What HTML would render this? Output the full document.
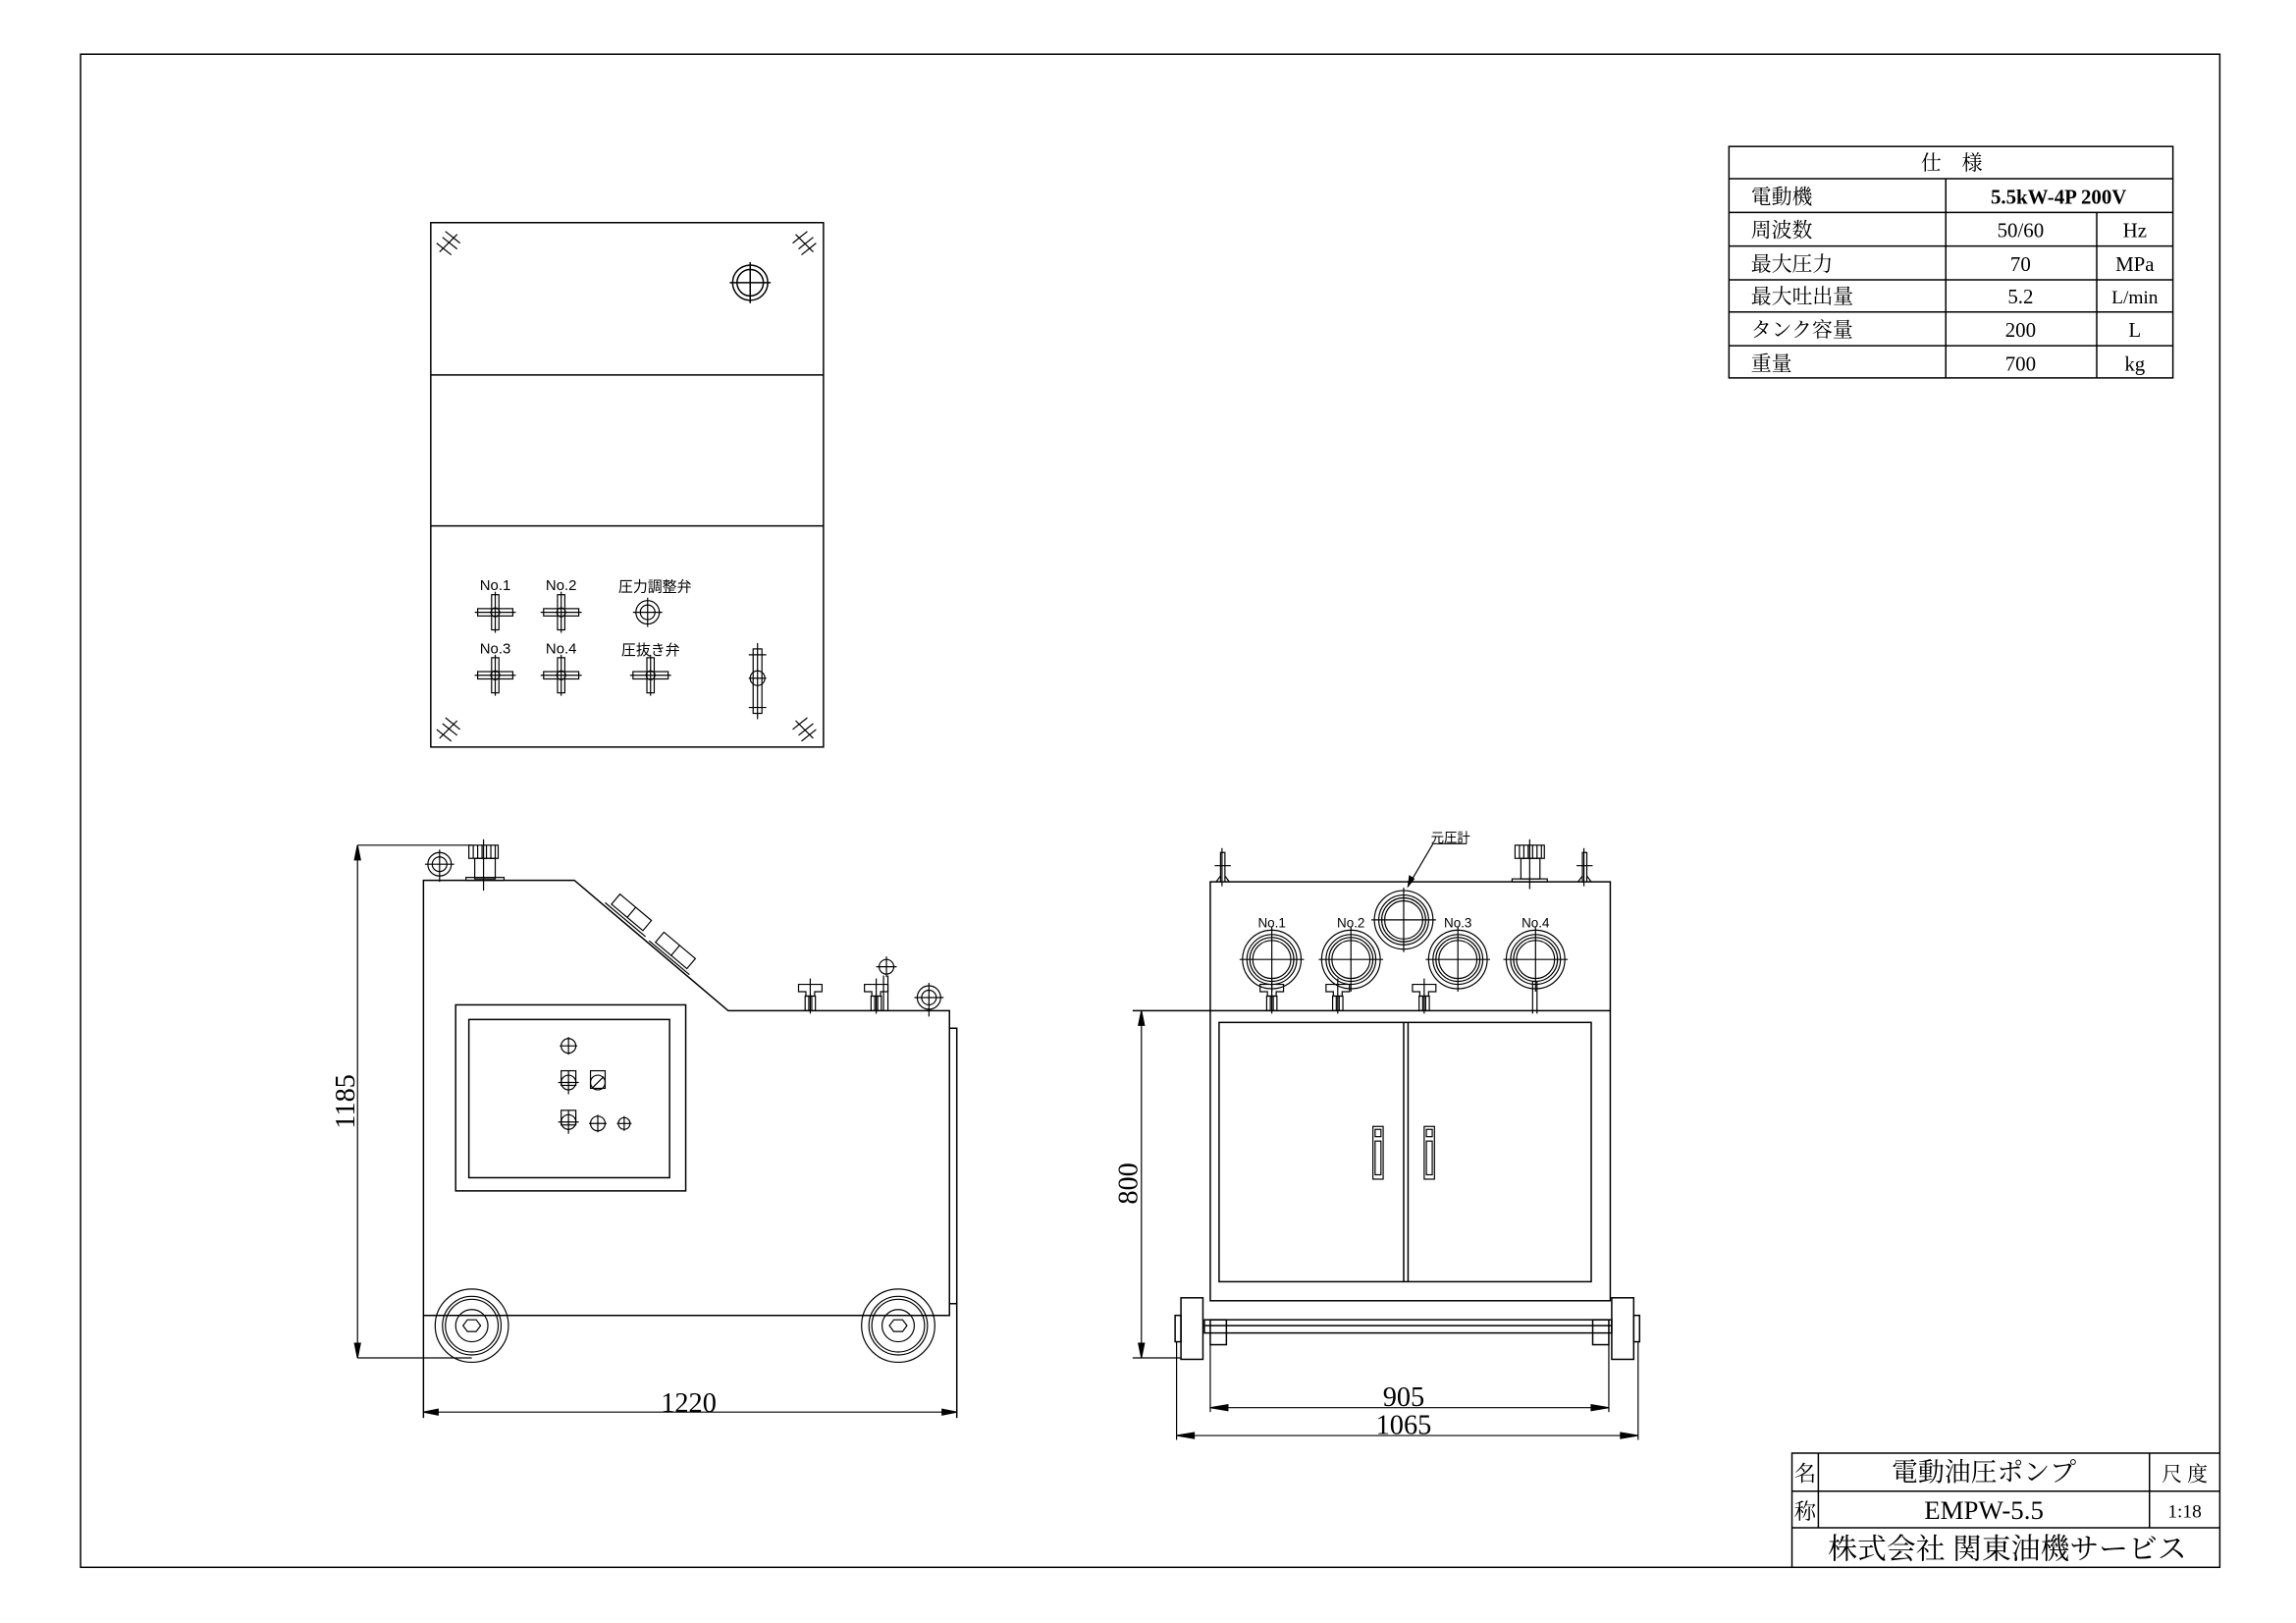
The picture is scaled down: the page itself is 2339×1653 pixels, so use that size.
<!DOCTYPE html>
<html><head><meta charset="utf-8"><style>
html,body{margin:0;padding:0;background:#fff;}
svg{display:block;}
text{font-family:"Liberation Sans","Noto Sans CJK JP",sans-serif;fill:#000;}
.s{font-family:"Liberation Serif","Noto Serif CJK SC","Noto Sans CJK JP",serif;}
</style></head><body>
<svg width="2339" height="1653" viewBox="0 0 1567 1108" preserveAspectRatio="none" xmlns="http://www.w3.org/2000/svg">
<defs>
<g id="vx" fill="none" stroke="#000" stroke-width="0.8">
<rect x="-2.5" y="-12" width="5" height="24"/><rect x="-12" y="-2.5" width="24" height="5"/>
<circle cx="0" cy="0" r="3"/><line x1="-14" y1="0" x2="14" y2="0"/><line x1="0" y1="-14" x2="0" y2="14"/>
</g>
<g id="wing" fill="none" stroke="#000" stroke-width="0.8">
<path d="M-8,-6 L8,-6 L8,-1 L3,-1 L3,2 L-3,2 L-3,-1 L-8,-1 Z"/>
<rect x="-3.5" y="2" width="7" height="10"/><line x1="0" y1="-10" x2="0" y2="14"/><line x1="-1" y1="2" x2="-1" y2="12"/><line x1="1" y1="2" x2="1" y2="12"/>
</g>
<g id="gg" fill="none" stroke="#000" stroke-width="0.8">
<circle cx="0" cy="0" r="20"/><circle cx="0" cy="0" r="17"/><circle cx="0" cy="0" r="15"/><circle cx="0" cy="0" r="13"/>
<line x1="-22" y1="0" x2="22" y2="0"/><line x1="0" y1="-22" x2="0" y2="22"/>
</g>
</defs>
<g fill="none" stroke="#000" stroke-width="1">
<rect x="55" y="37" width="1460" height="1033"/>

<rect x="294" y="152" width="268" height="358"/>
<line x1="294" y1="256" x2="562" y2="256"/>
<line x1="294" y1="359" x2="562" y2="359"/>
<circle cx="512" cy="193" r="12"/><circle cx="512" cy="193" r="9"/>
<line x1="498" y1="193" x2="526" y2="193"/><line x1="512" y1="179" x2="512" y2="207"/>
<g stroke-width="0.8">
<path d="M300,172 L312,160 M302,162 L312,170 M304,158 L314,166 M298,166 L308,174"/>
<path d="M543,160 L555,172 M545,170 L555,162 M541,166 L551,158 M547,174 L557,166"/>
<path d="M300,504 L312,492 M302,494 L312,502 M304,490 L314,498 M298,498 L308,506"/>
<path d="M543,492 L555,504 M545,502 L555,494 M541,498 L551,490 M547,506 L557,498"/>
</g>
<use href="#vx" x="338" y="418"/><use href="#vx" x="383" y="418"/>
<use href="#vx" x="338" y="461"/><use href="#vx" x="383" y="461"/><use href="#vx" x="444" y="461"/>
<circle cx="442" cy="418" r="8" stroke-width="0.8"/><circle cx="442" cy="418" r="5" stroke-width="0.8"/>
<line x1="432" y1="418" x2="452" y2="418" stroke-width="0.8"/><line x1="442" y1="408" x2="442" y2="428" stroke-width="0.8"/>
<g stroke-width="0.8">
<rect x="514" y="443" width="6" height="44"/><circle cx="517" cy="463" r="5"/>
<line x1="517" y1="439" x2="517" y2="491"/><line x1="511" y1="447" x2="523" y2="447"/><line x1="511" y1="483" x2="523" y2="483"/><line x1="511" y1="463" x2="523" y2="463"/>
</g>

<path d="M289,601 L392,601 L497,690 L648,690 L648,898 L289,898 Z"/>
<line x1="289" y1="898" x2="289" y2="968"/>
<path d="M648,702 L653,702 L653,968"/>
<line x1="648" y1="890" x2="653" y2="890"/>
<rect x="311" y="686" width="157" height="127"/>
<rect x="320" y="696" width="137" height="108"/>
<g stroke-width="0.8">
<circle cx="388" cy="714" r="5"/><line x1="382" y1="714" x2="394" y2="714"/><line x1="388" y1="708" x2="388" y2="720"/>
<rect x="383" y="731" width="10" height="10"/><circle cx="388" cy="739" r="5"/><line x1="381" y1="739" x2="395" y2="739"/><line x1="388" y1="731" x2="388" y2="747"/>
<rect x="403" y="731" width="10" height="12"/><circle cx="408" cy="739" r="5"/><line x1="404" y1="743" x2="412" y2="735"/>
<rect x="383" y="758" width="10" height="10"/><circle cx="388" cy="766" r="5"/><line x1="381" y1="766" x2="395" y2="766"/><line x1="388" y1="758" x2="388" y2="774"/>
<circle cx="408" cy="767" r="5"/><line x1="402" y1="767" x2="414" y2="767"/><line x1="408" y1="761" x2="408" y2="773"/>
<circle cx="426" cy="767" r="4"/><line x1="421" y1="767" x2="431" y2="767"/><line x1="426" y1="762" x2="426" y2="772"/>
</g>
<g stroke-width="0.8">
<g transform="translate(430,624) rotate(40)"><rect x="-14" y="-6" width="28" height="9"/><line x1="0" y1="-6" x2="0" y2="3"/><line x1="-18" y1="5" x2="18" y2="5"/></g>
<g transform="translate(460,650) rotate(40)"><rect x="-14" y="-6" width="28" height="9"/><line x1="0" y1="-6" x2="0" y2="3"/><line x1="-18" y1="5" x2="18" y2="5"/></g>
</g>
<g stroke-width="0.8">
<rect x="320" y="577" width="20" height="9"/>
<path d="M323,577v9M326,577v9M329,577v9M332,577v9M335,577v9M338,577v9"/>
<rect x="324" y="586" width="14" height="14"/>
<rect x="318" y="599" width="26" height="2"/>
<line x1="330" y1="573" x2="330" y2="608"/>
<circle cx="300" cy="590" r="8"/><circle cx="300" cy="590" r="5"/>
<line x1="290" y1="590" x2="310" y2="590"/><line x1="300" y1="580" x2="300" y2="602"/>
<circle cx="634" cy="681" r="8"/><circle cx="634" cy="681" r="5"/>
<line x1="624" y1="681" x2="644" y2="681"/><line x1="634" y1="671" x2="634" y2="694"/>
</g>
<use href="#wing" x="553" y="678"/>
<use href="#wing" x="598" y="678"/>
<g stroke-width="0.8"><line x1="603" y1="666" x2="603" y2="690"/><line x1="606" y1="666" x2="606" y2="690"/><circle cx="605" cy="660" r="5"/><line x1="598" y1="660" x2="612" y2="660"/><line x1="605" y1="653" x2="605" y2="667"/></g>
<g stroke-width="0.8">
<circle cx="322" cy="905" r="25"/><circle cx="322" cy="905" r="20"/><circle cx="322" cy="905" r="18"/><circle cx="322" cy="905" r="11"/><path d="M319,901h6l3,4l-3,4h-6l-3,-4z"/>
<circle cx="613" cy="905" r="25"/><circle cx="613" cy="905" r="20"/><circle cx="613" cy="905" r="18"/><circle cx="613" cy="905" r="11"/><path d="M610,901h6l3,4l-3,4h-6l-3,-4z"/>
</g>
<g stroke-width="0.8">
<line x1="244" y1="577" x2="322" y2="577"/><line x1="244" y1="927" x2="322" y2="927"/>
<line x1="244" y1="577" x2="244" y2="927"/>
<path d="M244,577l-2,10h4z M244,927l-2,-10h4z" fill="#000"/>
<line x1="289" y1="964" x2="653" y2="964"/>
<path d="M289,964l10,-2v4z M653,964l-10,-2v4z" fill="#000"/>
</g>

<rect x="826" y="602" width="273" height="286"/>
<line x1="773" y1="690" x2="1099" y2="690"/>
<rect x="832" y="698" width="254" height="177"/>
<line x1="958" y1="698" x2="958" y2="875"/><line x1="961" y1="698" x2="961" y2="875"/>
<g stroke-width="0.8">
<rect x="937" y="769" width="7" height="36"/><rect x="938.5" y="771" width="4" height="5"/><rect x="938.5" y="779" width="4" height="23"/>
<rect x="972" y="769" width="7" height="36"/><rect x="973.5" y="771" width="4" height="5"/><rect x="973.5" y="779" width="4" height="23"/>
</g>
<rect x="822" y="901" width="278" height="9"/>
<line x1="822" y1="905" x2="1100" y2="905"/>
<rect x="826" y="901" width="11" height="17"/><rect x="1087" y="901" width="11" height="17"/>
<rect x="806" y="886" width="15" height="42"/><rect x="1100" y="886" width="15" height="42"/>
<rect x="802" y="898" width="4" height="18"/><rect x="1115" y="898" width="4" height="18"/>
<use href="#gg" x="868" y="655"/><use href="#gg" x="922" y="655"/><use href="#gg" x="958" y="628"/>
<use href="#gg" x="995" y="655"/><use href="#gg" x="1048" y="655"/>
<use href="#wing" x="868" y="678"/>
<use href="#wing" x="913" y="678"/>
<use href="#wing" x="972" y="678"/>
<g stroke-width="0.8"><line x1="1046" y1="670" x2="1046" y2="692"/><line x1="1049" y1="670" x2="1049" y2="692"/></g>
<g stroke-width="0.8">
<path d="M833,602v-20h3v20M830,602l3,-4M839,602l-3,-4"/><line x1="829" y1="591" x2="840" y2="591"/><line x1="834" y1="579" x2="834" y2="605"/>
<path d="M1080,602v-20h3v20M1077,602l3,-4M1086,602l-3,-4"/><line x1="1076" y1="591" x2="1087" y2="591"/><line x1="1081" y1="579" x2="1081" y2="605"/>
<rect x="1034" y="577" width="20" height="9"/>
<path d="M1037,577v9M1040,577v9M1043,577v9M1046,577v9M1049,577v9M1052,577v9"/>
<rect x="1038" y="586" width="13" height="14"/><rect x="1032" y="600" width="24" height="2"/>
<line x1="1044" y1="573" x2="1044" y2="607"/>
<path d="M1001,576 L978,576 L961,605"/><path d="M961,605l1,-7l3,2z" fill="#000"/>
</g>
<g stroke-width="0.8">
<line x1="779" y1="690" x2="779" y2="927"/><line x1="773" y1="927" x2="806" y2="927"/>
<path d="M779,690l-2,10h4z M779,927l-2,-10h4z" fill="#000"/>
<line x1="826" y1="918" x2="826" y2="964"/><line x1="1098" y1="918" x2="1098" y2="964"/>
<line x1="803" y1="916" x2="803" y2="983"/><line x1="1118" y1="916" x2="1118" y2="983"/>
<line x1="826" y1="961" x2="1098" y2="961"/>
<path d="M826,961l12,-2v4z M1098,961l-12,-2v4z" fill="#000"/>
<line x1="803" y1="980" x2="1118" y2="980"/>
<path d="M803,980l12,-2v4z M1118,980l-12,-2v4z" fill="#000"/>
</g>

<rect x="1180" y="100" width="303" height="158"/>
<path d="M1180,122H1483M1180,145H1483M1180,168H1483M1180,191H1483M1180,213H1483M1180,236H1483"/>
<line x1="1328" y1="122" x2="1328" y2="258"/>
<line x1="1431" y1="145" x2="1431" y2="258"/>

<path d="M1223,1070V992H1515M1223,1018H1515M1223,1043H1515M1241,992V1043M1467,992V1043"/>
</g>

<g font-size="10">
<text x="338" y="403" text-anchor="middle">No.1</text>
<text x="383" y="403" text-anchor="middle">No.2</text>
<text x="447" y="404" text-anchor="middle">圧力調整弁</text>
<text x="338" y="446" text-anchor="middle">No.3</text>
<text x="383" y="446" text-anchor="middle">No.4</text>
<text x="444" y="447" text-anchor="middle">圧抜き弁</text>
<text x="868" y="633" text-anchor="middle" font-size="9">No.1</text>
<text x="922" y="633" text-anchor="middle" font-size="9">No.2</text>
<text x="995" y="633" text-anchor="middle" font-size="9">No.3</text>
<text x="1048" y="633" text-anchor="middle" font-size="9">No.4</text>
<text x="990" y="575" text-anchor="middle" font-size="9">元圧計</text>
</g>
<text class="s" x="470" y="964" text-anchor="middle" font-size="19">1220</text>
<text class="s" x="958" y="960" text-anchor="middle" font-size="19">905</text>
<text class="s" x="958" y="979" text-anchor="middle" font-size="19">1065</text>
<text class="s" transform="translate(242,752) rotate(-90)" text-anchor="middle" font-size="19">1185</text>
<text class="s" transform="translate(776,808) rotate(-90)" text-anchor="middle" font-size="19">800</text>

<text class="s" x="1332" y="116" text-anchor="middle" font-size="14">仕　様</text>
<text class="s" x="1195" y="139" font-size="14">電動機</text>
<text class="s" x="1405" y="139" text-anchor="middle" font-size="14" font-weight="bold">5.5kW-4P 200V</text>
<text class="s" x="1195" y="162" font-size="14">周波数</text>
<text class="s" x="1379" y="162" text-anchor="middle" font-size="14">50/60</text>
<text class="s" x="1457" y="162" text-anchor="middle" font-size="14">Hz</text>
<text class="s" x="1195" y="185" font-size="14">最大圧力</text>
<text class="s" x="1379" y="185" text-anchor="middle" font-size="14">70</text>
<text class="s" x="1457" y="185" text-anchor="middle" font-size="14">MPa</text>
<text class="s" x="1195" y="207" font-size="14">最大吐出量</text>
<text class="s" x="1379" y="207" text-anchor="middle" font-size="14">5.2</text>
<text class="s" x="1457" y="207" text-anchor="middle" font-size="13">L/min</text>
<text class="s" x="1195" y="230" font-size="14">タンク容量</text>
<text class="s" x="1379" y="230" text-anchor="middle" font-size="14">200</text>
<text class="s" x="1457" y="230" text-anchor="middle" font-size="14">L</text>
<text class="s" x="1195" y="253" font-size="14">重量</text>
<text class="s" x="1379" y="253" text-anchor="middle" font-size="14">700</text>
<text class="s" x="1457" y="253" text-anchor="middle" font-size="14">kg</text>

<text class="s" x="1232" y="1011" text-anchor="middle" font-size="15">名</text>
<text class="s" x="1232" y="1037" text-anchor="middle" font-size="15">称</text>
<text class="s" x="1354" y="1011" text-anchor="middle" font-size="18">電動油圧ポンプ</text>
<text class="s" x="1354" y="1037" text-anchor="middle" font-size="18">EMPW-5.5</text>
<text class="s" x="1491" y="1011" text-anchor="middle" font-size="14">尺 度</text>
<text class="s" x="1491" y="1036" text-anchor="middle" font-size="13">1:18</text>
<text class="s" x="1370" y="1064" text-anchor="middle" font-size="20">株式会社  関東油機サービス</text>
</svg>
</body></html>
